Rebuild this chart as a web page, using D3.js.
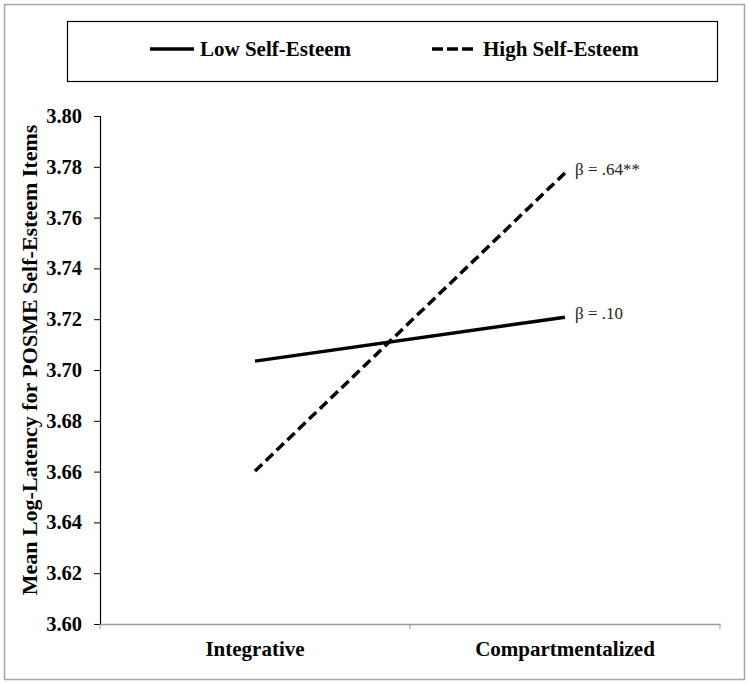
<!DOCTYPE html>
<html>
<head>
<meta charset="utf-8">
<script src="https://cdn.jsdelivr.net/npm/d3@7"></script>
<style>
  body { margin: 0; background: #fff; }
  svg { display: block; font-family: "Liberation Serif", "Times New Roman", serif; }
</style>
</head>
<body>
<div id="chart"></div>
<script>
const categories = ['Integrative', 'Compartmentalized'];
const lowSelfEsteem = [3.7035, 3.7208];
const highSelfEsteem = [3.6602, 3.7776];
const betaLabels = ['β = .10', 'β = .64**'];
const yTicks = [3.60, 3.62, 3.64, 3.66, 3.68, 3.70, 3.72, 3.74, 3.76, 3.78, 3.80];

const series = [
  { name: 'Low Self-Esteem', values: lowSelfEsteem, dash: null, beta: betaLabels[0] },
  { name: 'High Self-Esteem', values: highSelfEsteem, dash: '10,5', beta: betaLabels[1] }
];

const width = 750, height = 684;
const margin = { top: 116, right: 30, bottom: 60, left: 100 };

const svg = d3.select('#chart').append('svg')
  .attr('width', width)
  .attr('height', height);

// outer frame
svg.append('rect')
  .attr('x', 4.5).attr('y', 4.5)
  .attr('width', 740).attr('height', 675)
  .attr('fill', 'none')
  .attr('stroke', '#a6a6a6')
  .attr('stroke-width', 1.5);

const x = d3.scaleBand()
  .domain(categories)
  .range([margin.left, 720]);

const y = d3.scaleLinear()
  .domain([3.60, 3.80])
  .range([624, margin.top]);

// y axis
const yAxis = svg.append('g')
  .attr('transform', `translate(${margin.left},0)`)
  .call(d3.axisLeft(y).tickValues(yTicks).tickFormat(d3.format('.2f')).tickSize(6).tickPadding(12));
yAxis.select('.domain').attr('stroke', '#000').attr('stroke-width', 1.2);
yAxis.selectAll('.tick line').attr('stroke', '#000');
yAxis.selectAll('text')
  .attr('font-family', '"Liberation Serif", serif')
  .attr('font-size', 20.5)
  .attr('font-weight', 'bold')
  .attr('fill', '#000');

// x axis
const xAxis = svg.append('g')
  .attr('transform', `translate(0,${y(3.60)})`)
  .call(d3.axisBottom(x).tickSize(0).tickPadding(17));
xAxis.select('.domain').attr('stroke', '#999').attr('stroke-width', 1.5);
xAxis.selectAll('text')
  .attr('font-family', '"Liberation Serif", serif')
  .attr('font-size', 21)
  .attr('font-weight', 'bold')
  .attr('fill', '#000');

// category boundary ticks
const bounds = [x.range()[0], x(categories[1]), x.range()[1]];
svg.append('g').selectAll('line')
  .data(bounds)
  .join('line')
  .attr('x1', d => d).attr('x2', d => d)
  .attr('y1', y(3.60)).attr('y2', y(3.60) + 5)
  .attr('stroke', '#999')
  .attr('stroke-width', 1);

// y axis title
svg.append('text')
  .attr('transform', `translate(37,360) rotate(-90)`)
  .attr('text-anchor', 'middle')
  .attr('font-size', 22)
  .attr('font-weight', 'bold')
  .text('Mean Log-Latency for POSME Self-Esteem Items');

const cx = d => x(d) + x.bandwidth() / 2;
const line = d3.line()
  .x((d, i) => cx(categories[i]))
  .y(d => y(d));

svg.append('g').selectAll('path')
  .data(series)
  .join('path')
  .attr('d', d => line(d.values))
  .attr('fill', 'none')
  .attr('stroke', '#000')
  .attr('stroke-width', 3.5)
  .attr('stroke-dasharray', d => d.dash);

// beta labels
svg.append('g').selectAll('text')
  .data(series)
  .join('text')
  .attr('x', cx(categories[1]) + 10)
  .attr('y', d => y(d.values[1]) + 2)
  .attr('font-size', 17)
  .attr('fill', '#222')
  .text(d => d.beta);

// legend
const legend = svg.append('g');
legend.append('rect')
  .attr('x', 67.5).attr('y', 21.5)
  .attr('width', 650).attr('height', 60)
  .attr('fill', 'none')
  .attr('stroke', '#000')
  .attr('stroke-width', 1.2);

const legendX = [150, 432];
const items = legend.selectAll('g.item')
  .data(series)
  .join('g')
  .attr('class', 'item')
  .attr('transform', (d, i) => `translate(${legendX[i]},49)`);
items.append('line')
  .attr('x1', 0).attr('x2', (d, i) => i === 0 ? 44 : 41)
  .attr('y1', 0).attr('y2', 0)
  .attr('stroke', '#000')
  .attr('stroke-width', 3.5)
  .attr('stroke-dasharray', d => d.dash ? '11,4' : null);
items.append('text')
  .attr('x', (d, i) => i === 0 ? 50 : 51)
  .attr('y', 7)
  .attr('font-size', 21)
  .attr('font-weight', 'bold')
  .text(d => d.name);
</script>
</body>
</html>
